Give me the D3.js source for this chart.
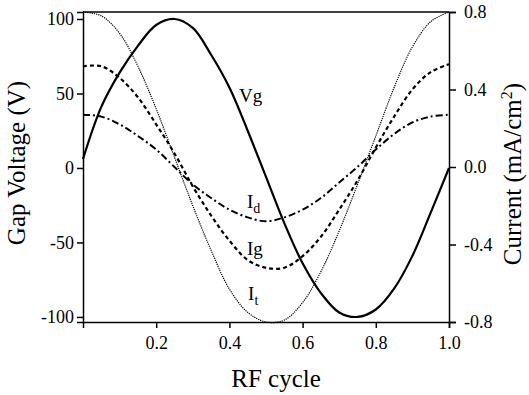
<!DOCTYPE html>
<html lang="en">
<head>
    <meta charset="UTF-8">
    <title>Gap voltage and currents over one RF cycle</title>
    <script src="https://d3js.org/d3.v7.min.js"></script>
    <style>
        body { margin: 0; background: #fff; }
        svg { display: block; font-family: "Liberation Serif", "DejaVu Serif", serif; }
        .axis path, .axis line { stroke: #000; stroke-width: 1.5; }
        .title { font-size: 25px; fill: #000; }
        .lbl { font-size: 19px; fill: #000; }
        .curve { fill: none; stroke: #000; }
    </style>
</head>
<body>
<div id="chart"></div>
<script>
// RF cycle phase (sampled every 0.05)
const phase = [0, 0.05, 0.1, 0.15, 0.2, 0.25, 0.3, 0.35, 0.4, 0.45, 0.5,
               0.55, 0.6, 0.65, 0.7, 0.75, 0.8, 0.85, 0.9, 0.95, 1.0];

// gap voltage (V), left axis
const vg = [6, 41, 64, 82, 96, 100, 94, 76, 54, 25, -6,
            -37, -64, -84, -97, -100, -95, -81, -59, -30, 0];

// currents (mA/cm2), right axis
const it = [0.80, 0.78, 0.69, 0.52, 0.30, 0.05, -0.20, -0.43, -0.63, -0.75, -0.80,
            -0.79, -0.70, -0.54, -0.33, -0.09, 0.16, 0.41, 0.62, 0.75, 0.80];
const ig = [0.52, 0.52, 0.46, 0.36, 0.22, 0.07, -0.10, -0.25, -0.38, -0.48, -0.52,
            -0.52, -0.46, -0.36, -0.22, -0.07, 0.10, 0.26, 0.40, 0.49, 0.53];
const id = [0.27, 0.26, 0.22, 0.16, 0.09, 0.00, -0.09, -0.16, -0.22, -0.26, -0.28,
            -0.26, -0.22, -0.16, -0.08, 0.00, 0.09, 0.17, 0.23, 0.26, 0.27];

const xTicks = [0.2, 0.4, 0.6, 0.8, 1.0];
const leftTicks = [-100, -50, 0, 50, 100];
const rightTicks = [-0.8, -0.4, 0.0, 0.4, 0.8];

const W = 529, H = 395;
const plotL = 83, plotR = 449, plotT = 12, plotB = 322;
const serif = '"Liberation Serif", "DejaVu Serif", serif';

const svg = d3.select('#chart').append('svg')
    .attr('width', W)
    .attr('height', H);

const x = d3.scaleLinear().domain([0, 1]).range([plotL, plotR]);
const yL = d3.scaleLinear().domain([-103.4, 104.7]).range([plotB, plotT]);
const yR = d3.scaleLinear().domain([-0.8, 0.8]).range([plotB, plotT]);

// curves
const lineL = d3.line().x((d, i) => x(phase[i])).y(d => yL(d)).curve(d3.curveCatmullRom);
const lineR = d3.line().x((d, i) => x(phase[i])).y(d => yR(d)).curve(d3.curveCatmullRom);

svg.append('path').datum(it).attr('class', 'curve')
    .attr('d', lineR)
    .style('stroke-width', 1.2)
    .style('stroke-dasharray', '1.2,1');

svg.append('path').datum(ig).attr('class', 'curve')
    .attr('d', lineR)
    .style('stroke-width', 2.2)
    .style('stroke-dasharray', '4,3');

svg.append('path').datum(id).attr('class', 'curve')
    .attr('d', lineR)
    .style('stroke-width', 2)
    .style('stroke-dasharray', '7,3,2,3');

svg.append('path').datum(vg).attr('class', 'curve')
    .attr('d', lineL)
    .style('stroke-width', 2.2);

// axes (d3 puts sans-serif on the group, so override it)
function styleAxis(g) {
    g.attr('font-family', serif).attr('font-size', 18);
    g.selectAll('text').style('font-family', serif).style('font-size', '18px').style('fill', '#000');
}

svg.append('g')
    .attr('class', 'axis')
    .attr('transform', `translate(0,${plotB})`)
    .call(d3.axisBottom(x).tickValues(xTicks).tickFormat(d => d.toFixed(1))
        .tickSizeOuter(0).tickSize(6).tickPadding(8))
    .call(styleAxis);

svg.append('g')
    .attr('class', 'axis')
    .attr('transform', `translate(${plotL},0)`)
    .call(d3.axisLeft(yL).tickValues(leftTicks).tickFormat(d => String(d))
        .tickSizeOuter(0).tickSize(6).tickPadding(3))
    .call(styleAxis);

svg.append('g')
    .attr('class', 'axis')
    .attr('transform', `translate(${plotR},0)`)
    .call(d3.axisRight(yR).tickValues(rightTicks).tickFormat(d => d.toFixed(1))
        .tickSizeOuter(0).tickSize(7).tickPadding(8))
    .call(styleAxis);

// top frame
svg.append('line')
    .attr('x1', plotL).attr('x2', plotR)
    .attr('y1', plotT).attr('y2', plotT)
    .style('stroke', '#000').style('stroke-width', 1.5);

// axis titles
svg.append('text')
    .attr('class', 'title')
    .attr('x', (plotL + plotR) / 2 + 10)
    .attr('y', 387)
    .style('text-anchor', 'middle')
    .text('RF cycle');

svg.append('text')
    .attr('class', 'title')
    .attr('transform', 'translate(25,163) rotate(-90)')
    .style('text-anchor', 'middle')
    .text('Gap Voltage (V)');

const rt = svg.append('text')
    .attr('class', 'title')
    .attr('transform', 'translate(521,174) rotate(-90)')
    .style('text-anchor', 'middle');
rt.append('tspan').text('Current (mA/cm');
rt.append('tspan').attr('dy', -9).style('font-size', '16px').text('2');
rt.append('tspan').attr('dy', 9).text(')');

// curve labels
svg.append('text').attr('class', 'lbl')
    .attr('x', x(0.426)).attr('y', yL(44))
    .text('Vg');

const curveLabels = [
    { sub: 'd', px: 0.448, val: -0.21 },
    { sub: 't', px: 0.451, val: -0.686 }
];
curveLabels.forEach(c => {
    const t = svg.append('text').attr('class', 'lbl')
        .attr('x', x(c.px)).attr('y', yR(c.val));
    t.append('tspan').text('I');
    t.append('tspan').attr('dy', 5).style('font-size', '14px').text(c.sub);
});

svg.append('text').attr('class', 'lbl')
    .attr('x', x(0.448)).attr('y', yR(-0.454))
    .text('Ig');
</script>
</body>
</html>
